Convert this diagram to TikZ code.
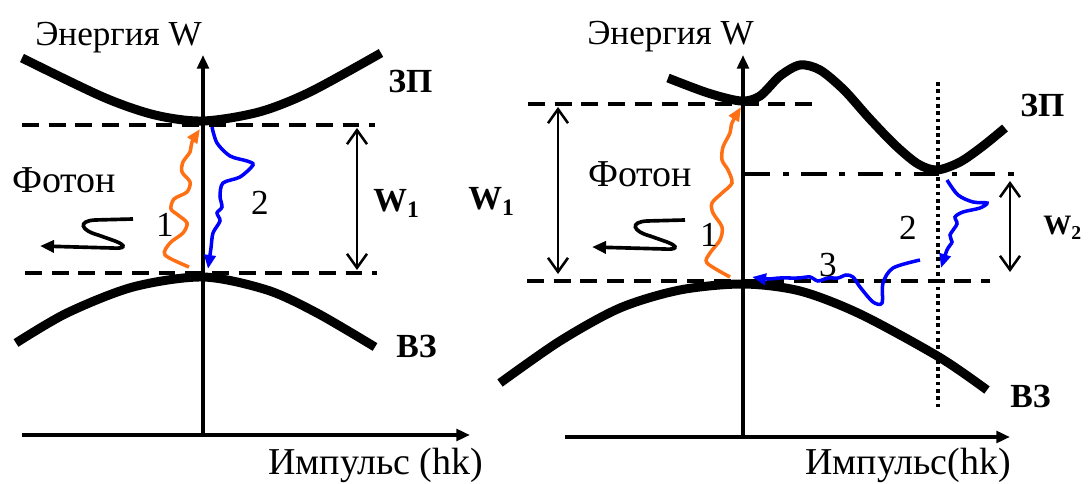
\documentclass[tikz,border=0pt]{standalone}
\usepackage{fontspec}
\setmainfont{Liberation Serif}
\usetikzlibrary{arrows.meta}

\definecolor{emitorange}{RGB}{255,112,20}
\definecolor{relaxblue}{RGB}{0,0,255}

\tikzset{
  band/.style={line width=6.4pt},
  axis/.style={line width=2.5pt,-{Triangle[length=3.4mm,width=2.9mm]}},
  level/.style={line width=2.6pt,dash pattern=on 12pt off 7pt},
  gapline/.style={line width=1.8pt,{Straight Barb[length=3.5mm,width=5mm]}-{Straight Barb[length=3.5mm,width=5mm]}},
  emit/.style={line width=2.5pt,emitorange,-{Triangle[length=3.5mm,width=2.8mm]}},
  relax/.style={line width=2.5pt,relaxblue,-{Triangle[length=3.5mm,width=2.8mm]}},
  photon/.style={line width=2.6pt,-{Triangle[length=3.5mm,width=3mm]}},
  lbl/.style={anchor=base west,inner sep=0pt},
  boldlbl/.style={lbl,font=\fontsize{24}{28}\selectfont\bfseries},
}

\begin{document}
\begin{tikzpicture}[x=0.025cm,y=-0.025cm,font=\fontsize{25}{30}\selectfont]
\useasboundingbox (0,0) rectangle (1088,484);

% axes of both panels
\foreach \p/\xa/\xo/\xb/\ya in {L/22/203/470/435, R/565/743/1010/437}{
  \coordinate (h\p a) at (\xa,\ya);
  \coordinate (h\p b) at (\xb,\ya);
  \coordinate (v\p a) at (\xo,\ya);
  \coordinate (v\p b) at (\xo,55);
  \draw[axis] (h\p a) -- (h\p b);
  \draw[axis] (v\p a) -- (v\p b);
}

% left panel: direct gap
\draw[level] (22,125) -- (375,125);
\draw[level] (25,273) -- (377,273);
\draw[band] plot[smooth] coordinates {(22,58) (103,97) (155,115) (203,121) (259,112) (310,92) (381,53)};
\draw[band] plot[smooth] coordinates {(16,343) (67,313) (133,287) (203,277) (267,290) (317,313) (375,347)};
\draw[gapline] (357,128) -- (357,270);
\draw[emit] plot[smooth] coordinates {(189,267) (165,255) (170,243) (183,233) (187,223) (178,215) (171,209) (174,199) (187,192) (190,182) (182,172) (183,162) (190,152) (192,142) (200,129)};
\draw[relax] plot[smooth] coordinates {(212,127) (217,143) (230,156) (247,161) (253,165) (240,177) (223,183) (220,196) (222,207) (217,213) (220,221) (213,233) (211,248) (208,269)};

% right panel: indirect gap
\draw[level] (528,104) -- (813,104);
\draw[level] (527,281) -- (990,281);
\draw[line width=2.6pt,dash pattern=on 18pt off 9pt on 4pt off 9pt] (745,174) -- (1017,174);
\draw[line width=2.6pt,dash pattern=on 2.6pt off 2.6pt] (938,82) -- (938,410);
\draw[band] plot[smooth] coordinates {(668,78) (708,93) (741,101) (760,96) (780,76) (800,65) (820,70) (844,90) (869,118) (895,145) (918,164) (937,170) (960,162) (983,146) (1005,128)};
\draw[band] plot[smooth] coordinates {(500,383) (560,341) (620,308) (680,290) (743,284) (800,291) (860,314) (939,357) (987,390)};
\draw[gapline] (558,107) -- (558,274);
\draw[gapline] (1010,181) -- (1010,272);
\draw[emit] plot[smooth] coordinates {(730,277) (707,263) (710,253) (720,240) (722,227) (713,213) (712,203) (722,193) (732,183) (728,170) (722,160) (723,147) (730,133) (732,123) (741,107)};
\draw[relax] plot[smooth] coordinates {(947,180) (958,195) (973,202) (987,203) (980,208) (963,212) (955,217) (957,224) (950,235) (952,242) (947,250) (941,268)};
\draw[relax] plot[smooth] coordinates {(920,260) (893,268) (883,283) (882,303) (873,302) (860,287) (853,277) (846,275) (838,278) (828,278) (818,281) (810,277) (798,278) (780,278) (767,279) (752,277)};

% emitted photons
\foreach \dx/\dy in {0/0, 552/1}{
  \begin{scope}[shift={(\dx,\dy)}]
    \draw[photon] (133,219) -- (95,220) .. controls (78,221) and (80,230) .. (98,235)
      -- (115,241) .. controls (128,246) and (124,249) .. (112,248) -- (40,246);
  \end{scope}
}

% labels
\node[lbl] (enL) at (35,46) {Энергия W};
\node[lbl] (enR) at (587,45) {Энергия W};
\node[lbl,font=\fontsize{27}{32}\selectfont] (imL) at (268,475) {Импульс (hk)};
\node[lbl,font=\fontsize{27}{32}\selectfont] (imR) at (805,475) {Импульс(hk)};
\node[lbl,font=\fontsize{27}{32}\selectfont] (phL) at (12,193) {Фотон};
\node[lbl,font=\fontsize{27}{32}\selectfont] (phR) at (588,187) {Фотон};
\node[boldlbl] (cbL) at (388,93) {ЗП};
\node[boldlbl] (cbR) at (1020,117) {ЗП};
\node[boldlbl] (vbL) at (396,358) {ВЗ};
\node[boldlbl] (vbR) at (1010,408) {ВЗ};
\node[boldlbl] (wL) at (373,212) {W\textsubscript{1}};
\node[boldlbl] (wR) at (468,210) {W\textsubscript{1}};
\node[boldlbl,font=\fontsize{20}{24}\selectfont\bfseries] (wT) at (1043,235) {W\textsubscript{2}};
\node (nL1) at (165,225) {1};
\node (nL2) at (260,203) {2};
\node (nR1) at (709,235) {1};
\node (nR2) at (908,228) {2};
\node (nR3) at (828,265) {3};
\end{tikzpicture}
\end{document}
